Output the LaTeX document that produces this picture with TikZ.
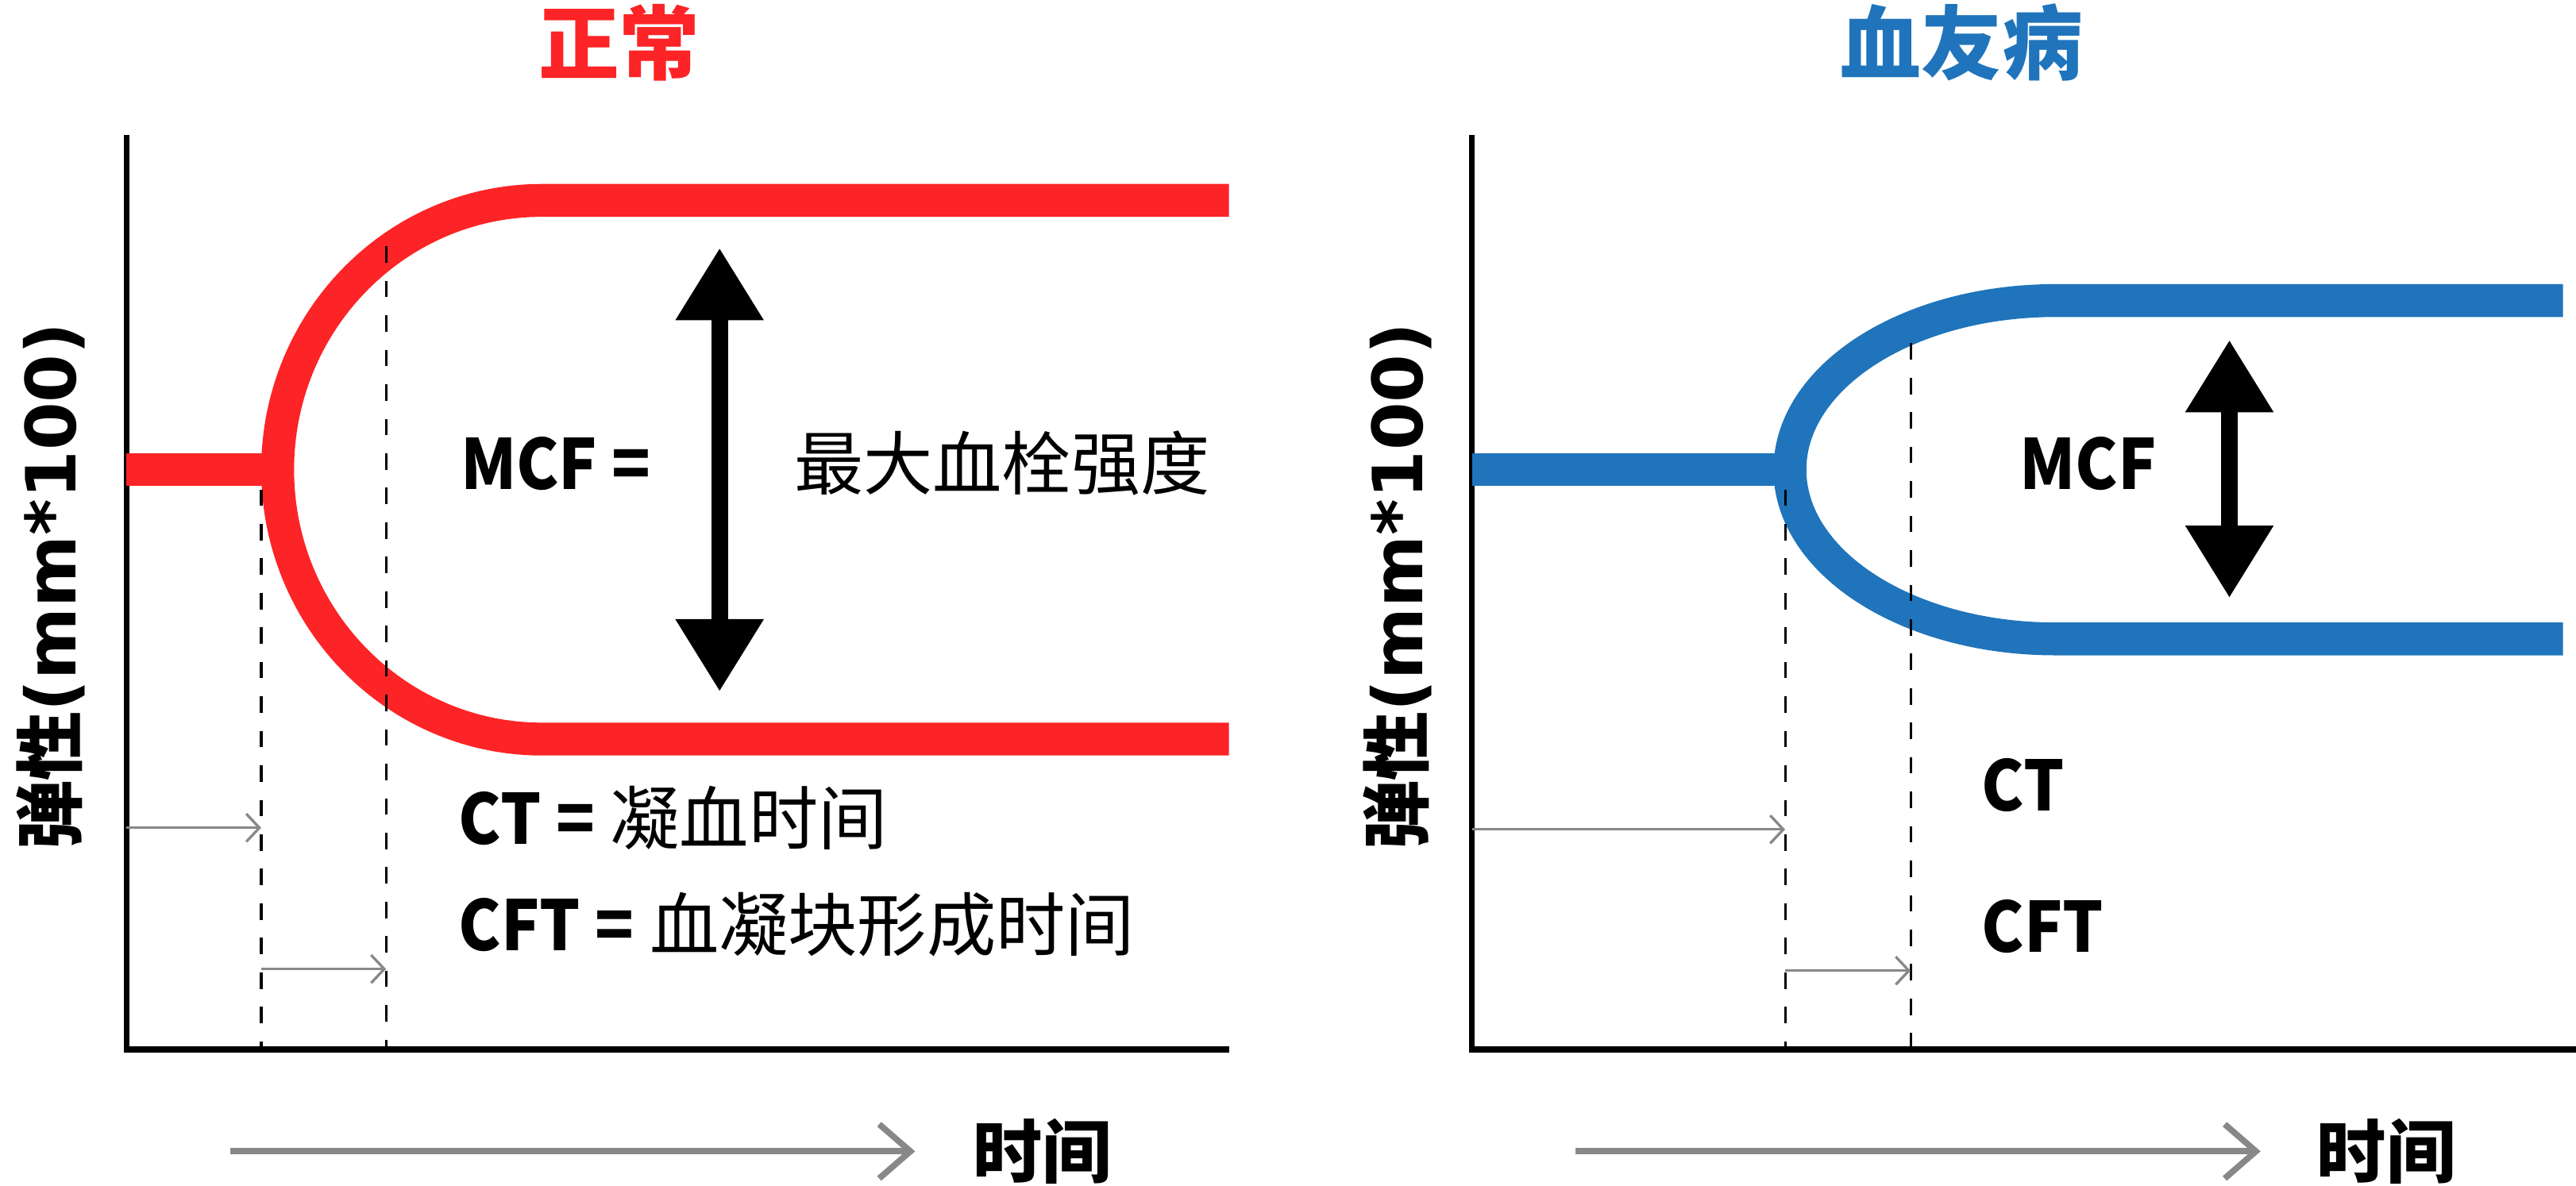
\documentclass[tikz,border=0pt]{standalone}
\usepackage{fontspec}
\setmainfont{Noto Sans CJK SC}
\newfontfamily\dejavu{DejaVu Sans}
\newfontfamily\narrow{Noto Sans CJK SC}[FakeStretch=0.92]
\usepackage{tikz}
\usetikzlibrary{arrows.meta}
\definecolor{normalred}{RGB}{252,36,38}
\definecolor{haemoblue}{RGB}{31,116,187}
\definecolor{tickgray}{RGB}{136,136,136}
\newcommand{\txtfont}{\fontsize{24pt}{28pt}\selectfont}
\newcommand{\hdfont}{\fontsize{28pt}{32pt}\selectfont}
\newcommand{\abbr}[1]{{\narrow\bfseries #1}}

\begin{document}
\begin{tikzpicture}[x=0.2mm,y=-0.2mm,
    curve/.style={line width=4mm},
    axis/.style={line width=0.7mm},
    guide/.style={line width=0.3mm,dash pattern=on 2mm off 2.2mm},
    timearr/.style={draw=tickgray,line width=0.32mm,-{Straight Barb[length=1.6mm,width=3.4mm]}},
    longarr/.style={draw=tickgray,line width=0.75mm,-{Straight Barb[length=3.8mm,width=6.6mm]}},
    mcfarr/.style={line width=2mm,{Triangle[length=8.8mm,width=10.2mm]}-{Triangle[length=8.8mm,width=10.2mm]}},
    lbl/.style={inner sep=0pt,font=\txtfont,anchor=base west},
    ylab/.style={inner sep=0pt,anchor=base,rotate=90,font=\txtfont\bfseries}]
  \useasboundingbox (0,0) rectangle (1568,722);
  % normal
  \begin{scope}
    \node[inner sep=0pt,anchor=base,text=normalred,font=\hdfont\bfseries] (n-title) at (377,44.5) {正常};
    \node[ylab] (n-ylab) at (46,357) {弹性{\dejavu(mm*100)}};
    \draw[axis] (77,82) |- (748,639);
    \draw[curve,normalred] (77,286) -- (169,286);
    \draw[curve,normalred] (748,122) -- (330,122) arc[start angle=-90,end angle=-270,x radius=161,y radius=164] -- (748,450);
    \draw[guide] (159,298) -- (159,639);
    \draw[guide] (235,150) -- (235,639);
    \coordinate (n-ax) at (77,504);
    \coordinate (n-ct) at (159,504);
    \coordinate (n-cft0) at (159,590);
    \coordinate (n-cft) at (235,590);
    \draw[timearr] (n-ax) -- (n-ct);
    \draw[timearr] (n-cft0) -- (n-cft);
    \coordinate (n-mcftop) at (438,151);
    \coordinate (n-mcfbot) at (438,421);
    \draw[mcfarr] (n-mcftop) -- (n-mcfbot);
    \node[lbl] (n-mcf) at (280,298) {\abbr{MCF =}};
    \node[lbl] (n-mcftxt) at (483,298) {最大血栓强度};
    \node[lbl] (n-cttxt) at (279,514) {\abbr{CT =} 凝血时间};
    \node[lbl] (n-cfttxt) at (279,579) {\abbr{CFT =} 血凝块形成时间};
    \coordinate (n-t0) at (140,701);
    \coordinate (n-t1) at (557,701);
    \draw[longarr] (n-t0) -- (n-t1);
    \node[lbl,font=\txtfont\bfseries] (n-time) at (592,717) {时间};
  \end{scope}
  % haemophilia
  \begin{scope}[xshift=163.8mm]
    \node[inner sep=0pt,anchor=base,text=haemoblue,font=\hdfont\bfseries] (h-title) at (375,44.5) {血友病};
    \node[ylab] (h-ylab) at (47,357) {弹性{\dejavu(mm*100)}};
    \draw[axis] (77,82) |- (749,639);
    \draw[curve,haemoblue] (77,286) -- (270.5,286);
    \draw[curve,haemoblue] (741,183) -- (432,183) arc[start angle=-90,end angle=-270,x radius=161.5,y radius=103] -- (741,389);
    \draw[guide] (267.6,298) -- (267.6,639);
    \draw[guide] (344,209) -- (344,639);
    \coordinate (h-ax) at (77,505);
    \coordinate (h-ct) at (267.6,505);
    \coordinate (h-cft0) at (267.6,591);
    \coordinate (h-cft) at (344,591);
    \draw[timearr] (h-ax) -- (h-ct);
    \draw[timearr] (h-cft0) -- (h-cft);
    \coordinate (h-mcftop) at (538,207);
    \coordinate (h-mcfbot) at (538,364);
    \draw[mcfarr] (h-mcftop) -- (h-mcfbot);
    \node[lbl] (h-mcf) at (410,298) {\abbr{MCF}};
    \node[lbl] (h-cttxt) at (387,493.5) {\abbr{CT}};
    \node[lbl] (h-cfttxt) at (387,580) {\abbr{CFT}};
    \coordinate (h-t0) at (140,701);
    \coordinate (h-t1) at (557,701);
    \draw[longarr] (h-t0) -- (h-t1);
    \node[lbl,font=\txtfont\bfseries] (h-time) at (591,717) {时间};
  \end{scope}
\end{tikzpicture}
\end{document}
